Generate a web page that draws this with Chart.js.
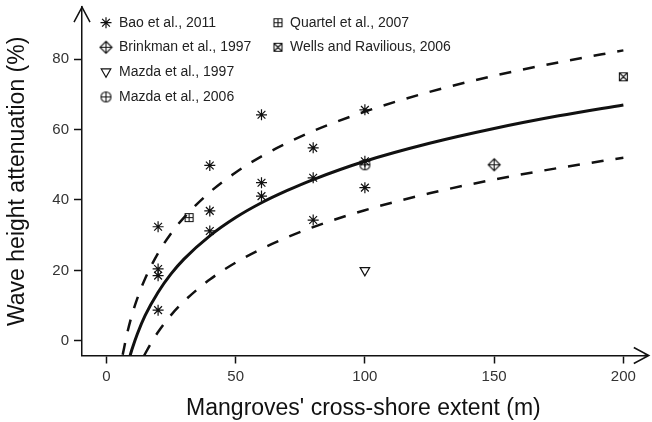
<!DOCTYPE html>
<html><head><meta charset="utf-8">
<script src="https://cdn.jsdelivr.net/npm/chart.js@4"></script>
<style>html,body{margin:0;padding:0;background:#fff}#wrap{width:652px;height:422px;position:relative}</style>
</head><body><div id="wrap"><canvas id="c" width="652" height="422"></canvas></div>
<script>
// ---- data ----
const xTicks = [0, 50, 100, 150, 200];
const yTicks = [0, 20, 40, 60, 80];
const xTitle = "Mangroves' cross-shore extent (m)";
const yTitle = "Wave height attenuation (%)";
const seriesNames = ["Bao et al., 2011", "Brinkman et al., 1997", "Mazda et al., 1997", "Mazda et al., 2006", "Quartel et al., 2007", "Wells and Ravilious, 2006"];

const baoX = [20, 20, 20, 20, 40, 40, 40, 60, 60, 60, 80, 80, 80, 100, 100, 100];
const baoY = [32.4, 20.4, 18.5, 8.7, 49.8, 36.9, 31.2, 64.2, 44.9, 41.1, 54.8, 46.3, 34.3, 65.6, 51.0, 43.5];
const brinkmanX = [150], brinkmanY = [50];
const mazda97X = [100], mazda97Y = [20];
const mazda06X = [100], mazda06Y = [50];
const quartelX = [32], quartelY = [35];
const wellsX = [200], wellsY = [75];

const fitX = [9.2, 10, 12, 15, 20, 25, 30, 40, 50, 60, 70, 80, 100, 125, 150, 175, 200];
const fitY = [-4.1, -2.2, 2.0, 7.2, 13.8, 19.0, 23.2, 29.8, 35.0, 39.2, 42.7, 45.8, 51.0, 56.1, 60.3, 63.9, 67.0];
const upperX = [6.3, 8, 10, 12, 15, 20, 25, 30, 40, 50, 60, 70, 80, 100, 125, 150, 175, 200];
const upperY = [-4.0, 2.0, 7.6, 12.1, 17.7, 24.9, 30.5, 35.0, 42.2, 47.8, 52.4, 56.2, 59.6, 65.1, 70.7, 75.3, 79.1, 82.5];
const lowerX = [14.6, 17, 20, 25, 30, 40, 50, 60, 70, 80, 100, 125, 150, 175, 200];
const lowerY = [-4.2, -1.0, 2.5, 7.3, 11.2, 17.4, 22.2, 26.1, 29.4, 32.3, 37.1, 41.9, 45.8, 49.1, 52.0];

// ---- helpers ----
const pts = (xs, ys) => xs.map((x, i) => ({x: x, y: ys[i]}));
const FONT = '"Liberation Sans", Arial, Helvetica, sans-serif';
const INK = '#111';

function icon(kind) {
  const s = 15, m = 7.5;
  const c = document.createElement('canvas');
  c.width = s; c.height = s;
  const g = c.getContext('2d');
  g.strokeStyle = INK; g.lineWidth = 1.1;
  g.beginPath();
  if (kind === 'diamondplus') {
    const r = 6;
    g.moveTo(m, m - r); g.lineTo(m + r, m); g.lineTo(m, m + r); g.lineTo(m - r, m); g.closePath();
    g.moveTo(m - r, m); g.lineTo(m + r, m); g.moveTo(m, m - r); g.lineTo(m, m + r);
  } else if (kind === 'circleplus') {
    const r = 5;
    g.arc(m, m, r, 0, Math.PI * 2);
    g.moveTo(m - r, m); g.lineTo(m + r, m); g.moveTo(m, m - r); g.lineTo(m, m + r);
  } else if (kind === 'squareplus') {
    const r = 4;
    g.rect(m - r, m - r, 2 * r, 2 * r);
    g.moveTo(m - r, m); g.lineTo(m + r, m); g.moveTo(m, m - r); g.lineTo(m, m + r);
  } else if (kind === 'squarex') {
    const r = 4;
    g.rect(m - r, m - r, 2 * r, 2 * r);
    g.moveTo(m - r, m - r); g.lineTo(m + r, m + r); g.moveTo(m + r, m - r); g.lineTo(m - r, m + r);
  }
  g.stroke();
  return c;
}

function markerSet(label, xs, ys, style, radius, rotation) {
  return {
    label: label, data: pts(xs, ys), pointStyle: style, pointRadius: radius,
    pointRotation: rotation || 0, borderColor: INK, backgroundColor: 'rgba(0,0,0,0)',
    borderWidth: 1.2, pointHoverRadius: radius, showLine: false, isMarker: true
  };
}
function curveSet(label, xs, ys, width, dash) {
  return {
    label: label, data: pts(xs, ys), showLine: true, pointRadius: 0, pointHoverRadius: 0,
    borderColor: INK, borderWidth: width, borderDash: dash, borderCapStyle: 'butt',
    cubicInterpolationMode: 'monotone', fill: false, isMarker: false
  };
}

const datasets = [
  markerSet(seriesNames[0], baoX, baoY, 'star', 5.5),
  markerSet(seriesNames[1], brinkmanX, brinkmanY, icon('diamondplus'), 6),
  markerSet(seriesNames[2], mazda97X, mazda97Y, 'triangle', 5.5, 180),
  markerSet(seriesNames[3], mazda06X, mazda06Y, icon('circleplus'), 5),
  markerSet(seriesNames[4], quartelX, quartelY, icon('squareplus'), 5),
  markerSet(seriesNames[5], wellsX, wellsY, icon('squarex'), 5),
  curveSet('fit', fitX, fitY, 3, []),
  curveSet('upper', upperX, upperY, 2.5, [12, 12]),
  curveSet('lower', lowerX, lowerY, 2.5, [12, 12])
];

const legendPlugin = {
  id: 'cornerLegend',
  afterDraw(chart) {
    const ctx = chart.ctx;
    const cols = [{sx: 106, tx: 119}, {sx: 278, tx: 290}];
    const rows = [22.7, 47.3, 71.7, 96.9];
    ctx.save();
    let k = 0;
    chart.data.datasets.forEach(ds => {
      if (!ds.isMarker) return;
      const col = k < 4 ? cols[0] : cols[1];
      const y = rows[k < 4 ? k : k - 4];
      ctx.strokeStyle = INK; ctx.fillStyle = 'rgba(0,0,0,0)'; ctx.lineWidth = ds.borderWidth;
      Chart.helpers.drawPoint(ctx, {pointStyle: ds.pointStyle, rotation: ds.pointRotation, radius: ds.pointRadius, borderWidth: ds.borderWidth}, col.sx, y);
      ctx.font = '14px ' + FONT; ctx.fillStyle = '#222'; ctx.textBaseline = 'middle'; ctx.textAlign = 'left';
      ctx.fillText(ds.label, col.tx, y);
      k++;
    });
    ctx.restore();
  }
};

// arrowheads at the ends of both axes (x axis line extended slightly to its arrow tip)
const arrowPlugin = {
  id: 'axisArrows',
  afterDraw(chart) {
    const a = chart.chartArea, ctx = chart.ctx;
    const tipX = a.right + 4;
    ctx.save();
    ctx.strokeStyle = INK; ctx.lineWidth = 1.5; ctx.lineJoin = 'miter';
    ctx.beginPath();
    ctx.moveTo(a.left - 8, a.top + 15); ctx.lineTo(a.left, a.top); ctx.lineTo(a.left + 8, a.top + 15);
    ctx.moveTo(a.right - 1, a.bottom); ctx.lineTo(tipX, a.bottom);
    ctx.moveTo(tipX - 15, a.bottom - 8); ctx.lineTo(tipX, a.bottom); ctx.lineTo(tipX - 15, a.bottom + 8);
    ctx.stroke();
    ctx.restore();
  }
};

function axis(ticksArr, min, max, title, isX) {
  return {
    type: 'linear', min: min, max: max,
    afterBuildTicks: s => { s.ticks = ticksArr.map(v => ({value: v})); },
    afterFit: s => {
      if (isX) { s.height = 66.5; s.paddingLeft = 0; s.paddingRight = 0; }
      else { s.width = 82; s.paddingTop = 0; s.paddingBottom = 0; }
    },
    ticks: {color: '#333', font: {size: 15, family: FONT}, padding: isX ? 4 : 5, autoSkip: false, maxRotation: 0},
    grid: {display: true, drawOnChartArea: false, drawTicks: true, tickLength: 8, tickWidth: 1.5, tickColor: INK},
    border: {display: true, color: INK, width: 1.5},
    title: {display: true, text: title, color: '#111', font: {size: 23, family: FONT}, padding: isX ? {top: 0, bottom: 0} : {top: 4, bottom: 0}}
  };
}

new Chart(document.getElementById('c'), {
  type: 'scatter',
  data: {datasets: datasets},
  options: {
    responsive: false, devicePixelRatio: 1, animation: false,
    layout: {padding: {left: 0, right: 1, top: 5, bottom: 0}},
    plugins: {legend: {display: false}, tooltip: {enabled: false}},
    events: [],
    scales: {
      x: axis(xTicks, -9.44, 208.29, xTitle, true),
      y: axis(yTicks, -4.18, 94.76, yTitle, false)
    }
  },
  plugins: [legendPlugin, arrowPlugin]
});
</script>
</body></html>
